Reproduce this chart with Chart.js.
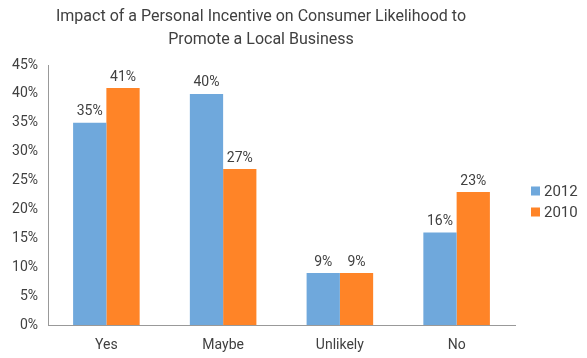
<!DOCTYPE html>
<html>
<head>
<meta charset="utf-8">
<script src="https://cdn.jsdelivr.net/npm/chart.js@4"></script>
<style>
  html, body { margin: 0; padding: 0; background: #fff; }
  #wrap { width: 587px; height: 358px; }
</style>
</head>
<body>
<div id="wrap"><canvas id="myChart" width="587" height="358"></canvas></div>
<script>
/****data*****/
const categories = ['Yes', 'Maybe', 'Unlikely', 'No'];
const values2012 = [35, 40, 9, 16];
const values2010 = [41, 27, 9, 23];
const yTicks = [0, 5, 10, 15, 20, 25, 30, 35, 40, 45];
const titleLines = ['Impact of a Personal Incentive on Consumer Likelihood to', 'Promote a Local Business'];

const textColor = '#404040';
const fontFamily = 'Roboto, "Liberation Sans", sans-serif';

// % value above every bar
const barLabels = {
  id: 'barLabels',
  afterDatasetsDraw(chart) {
    const ctx = chart.ctx;
    ctx.save();
    ctx.font = '14px ' + fontFamily;
    ctx.fillStyle = textColor;
    ctx.textAlign = 'center';
    ctx.textBaseline = 'bottom';
    chart.data.datasets.forEach((ds, i) => {
      chart.getDatasetMeta(i).data.forEach((bar, j) => {
        ctx.fillText(ds.data[j] + '%', bar.x, bar.y - 4);
      });
    });
    ctx.restore();
  }
};

// title (offset left like the original) and the legend on the right
const titleAndLegend = {
  id: 'titleAndLegend',
  afterDraw(chart) {
    const ctx = chart.ctx;
    ctx.save();
    ctx.fillStyle = textColor;
    ctx.textAlign = 'center';
    ctx.textBaseline = 'middle';
    ctx.font = '16px ' + fontFamily;
    titleLines.forEach((t, i) => ctx.fillText(t, 261, 17 + i * 23));

    ctx.textAlign = 'left';
    ctx.font = '15px ' + fontFamily;
    chart.data.datasets.forEach((ds, i) => {
      const y = 191 + i * 21;
      ctx.fillStyle = ds.backgroundColor;
      ctx.fillRect(531, y - 4.5, 9, 9);
      ctx.fillStyle = textColor;
      ctx.fillText(ds.label, 544, y + 1);
    });
    ctx.restore();
  }
};

const data = {
  labels: categories,
  datasets: [{
    label: '2012',
    data: values2012,
    backgroundColor: '#6FA8DC',
    borderWidth: 0,
    categoryPercentage: 0.57,
    barPercentage: 1.0
  },
  {
    label: '2010',
    data: values2010,
    backgroundColor: '#FF8427',
    borderWidth: 0,
    categoryPercentage: 0.57,
    barPercentage: 1.0
  }]
};

const config = {
  type: 'bar',
  data: data,
  plugins: [barLabels, titleAndLegend],
  options: {
    responsive: false,
    animation: false,
    layout: { padding: { left: 4, right: 72, top: 65, bottom: 0 } },
    plugins: {
      title: { display: false },
      legend: { display: false },
      tooltip: { enabled: false }
    },
    scales: {
      y: {
        min: 0,
        max: 45,
        afterBuildTicks(scale) {
          scale.ticks = yTicks.map(v => ({ value: v }));
        },
        afterFit(scale) { scale.width = 44; },
        ticks: {
          color: textColor,
          font: { family: fontFamily, size: 14 },
          padding: 10,
          callback: v => v + '%'
        },
        grid: { display: false, drawTicks: false },
        border: { display: true, color: '#999999', dash: [1, 1], width: 1 }
      },
      x: {
        afterFit(scale) { scale.height = 33; },
        ticks: {
          color: textColor,
          font: { family: fontFamily, size: 14 },
          padding: 12
        },
        grid: { display: false, drawTicks: false },
        border: { display: true, color: '#999999', dash: [1, 1], width: 1 }
      }
    }
  }
};

var myChart = new Chart(document.getElementById('myChart'), config);
/*****************/
</script>
</body>
</html>
